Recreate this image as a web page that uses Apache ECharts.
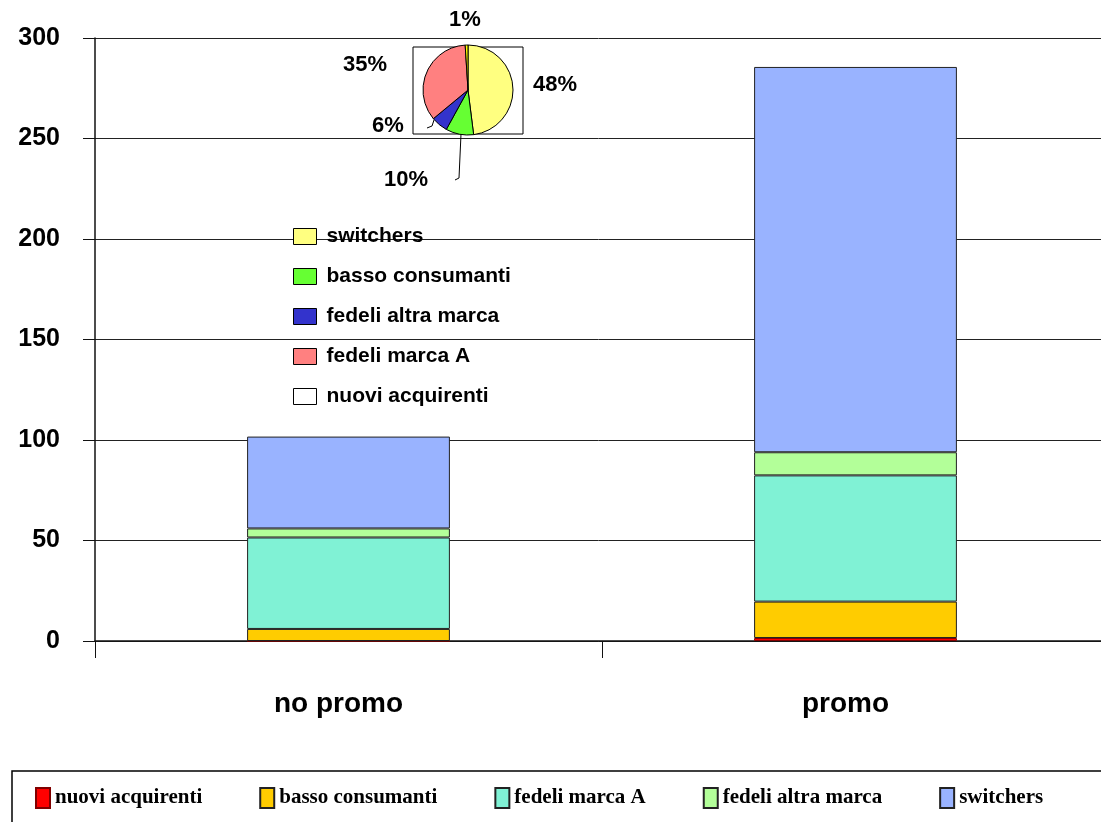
<!DOCTYPE html>
<html>
<head>
<meta charset="utf-8">
<script src="https://cdn.jsdelivr.net/npm/echarts@6/dist/echarts.min.js"></script>
<style>
  html, body { margin: 0; padding: 0; background: #fff; }
  #chart { width: 1101px; height: 822px; }
</style>
</head>
<body>
<div id="chart"></div>
<script>
// bar data
var categories = ['no promo', 'promo'];
var seriesNames = ['nuovi acquirenti', 'basso consumanti', 'fedeli marca A', 'fedeli altra marca', 'switchers'];
var nuoviAcquirenti = [0, 1.5];
var bassoConsumanti = [6, 18.1];
var fedeliMarcaA = [45.5, 62.8];
var fedeliAltraMarca = [4.5, 11.5];
var switchers = [45.7, 191.7];
var barColors = ['#ff0000', '#ffcc00', '#80f2d5', '#b3ff99', '#99b3ff'];
var barBorders = ['#800000', '#222', '#222', '#222', '#222'];

// y axis
var yMin = 0, yMax = 300, yStep = 50;

// pie data (percent)
var pieNames = ['switchers', 'basso consumanti', 'fedeli altra marca', 'fedeli marca A', 'nuovi acquirenti'];
var pieValues = [48, 10, 6, 35, 1];
var pieColors = ['#ffff80', '#66ff33', '#3333cc', '#ff8080', '#ffff00'];
var pieLegendColors = ['#ffff80', '#66ff33', '#3333cc', '#ff8080', '#ffffff'];

// label spots around the small pie
var pieLabelPos = [[555, 85], [406, 180], [388, 126], [365, 65], [465, 20]];

var barValues = [nuoviAcquirenti, bassoConsumanti, fedeliMarcaA, fedeliAltraMarca, switchers];

var chart = echarts.init(document.getElementById('chart'));

var series = seriesNames.map(function (name, i) {
    return {
        name: name,
        type: 'bar',
        stack: 'tot',
        barWidth: '40%',
        silent: true,
        itemStyle: { color: barColors[i], borderColor: barBorders[i], borderWidth: 1 },
        data: barValues[i]
    };
});

series.push({
    name: 'quota',
    type: 'pie',
    center: [468, 90],
    radius: 45,
    startAngle: 90,
    clockwise: true,
    silent: true,
    animation: false,
    itemStyle: { borderColor: '#000', borderWidth: 1 },
    label: {
        show: true,
        formatter: '{c}%',
        fontFamily: 'Liberation Sans',
        fontWeight: 'bold',
        fontSize: 22,
        color: '#000'
    },
    labelLine: { show: true, lineStyle: { color: '#000', width: 1 } },
    labelLayout: function (p) {
        var pos = pieLabelPos[p.dataIndex];
        var out = { x: pos[0], y: pos[1], align: 'center', verticalAlign: 'middle' };
        if (p.dataIndex === 1) out.labelLinePoints = [[461, 134], [459, 178], [455, 180]];
        if (p.dataIndex === 2) out.labelLinePoints = [[434, 120], [432, 126], [427, 128]];
        return out;
    },
    data: pieNames.map(function (n, i) {
        var d = { name: n, value: pieValues[i], itemStyle: { color: pieColors[i] } };
        if (i !== 1 && i !== 2) d.labelLine = { show: false };
        return d;
    })
});

chart.setOption({
    animation: false,
    grid: { left: 95, top: 38, width: 1014, height: 603, outerBoundsMode: 'none' },
    xAxis: {
        type: 'category',
        data: categories,
        axisLine: { lineStyle: { color: '#111', width: 1.5 } },
        axisTick: { show: true, length: 17, lineStyle: { color: '#111' } },
        axisLabel: {
            margin: 49,
            padding: [0, 20, 0, 0],
            fontFamily: 'Liberation Sans',
            fontWeight: 'bold',
            fontSize: 28,
            color: '#000'
        }
    },
    yAxis: {
        type: 'value',
        min: yMin,
        max: yMax,
        interval: yStep,
        axisLine: { show: true, lineStyle: { color: '#111', width: 1.5 } },
        axisTick: { show: true, length: 12, lineStyle: { color: '#111' } },
        splitLine: { lineStyle: { color: '#222', width: 1 } },
        axisLabel: {
            margin: 35,
            fontFamily: 'Liberation Sans',
            fontWeight: 'bold',
            fontSize: 25,
            color: '#000'
        }
    },
    legend: [
        {
            data: seriesNames,
            left: 30,
            top: 782,
            itemGap: 57,
            itemWidth: 14,
            itemHeight: 20,
            icon: 'rect',
            selectedMode: false,
            textStyle: {
                fontFamily: 'Liberation Serif',
                fontWeight: 'bold',
                fontSize: 21,
                color: '#000'
            }
        },
        {
            data: pieNames.map(function (n, i) {
                return { name: n, itemStyle: { color: pieLegendColors[i], borderColor: '#000', borderWidth: 1 } };
            }),
            orient: 'vertical',
            left: 288,
            top: 221,
            itemGap: 19,
            itemWidth: 23,
            itemHeight: 16,
            icon: 'rect',
            selectedMode: false,
            textStyle: {
                padding: [0, 0, 0, 5],
                fontFamily: 'Liberation Sans',
                fontWeight: 'bold',
                fontSize: 21,
                color: '#000'
            }
        }
    ],
    graphic: [
        {
            type: 'rect',
            shape: { x: 413, y: 47, width: 110, height: 87 },
            style: { fill: 'none', stroke: '#000', lineWidth: 1 },
            z: 1
        },
        {
            type: 'rect',
            shape: { x: 12, y: 771, width: 1100, height: 60 },
            style: { fill: 'none', stroke: '#000', lineWidth: 1.5 }
        }
    ],
    series: series
});
</script>
</body>
</html>
